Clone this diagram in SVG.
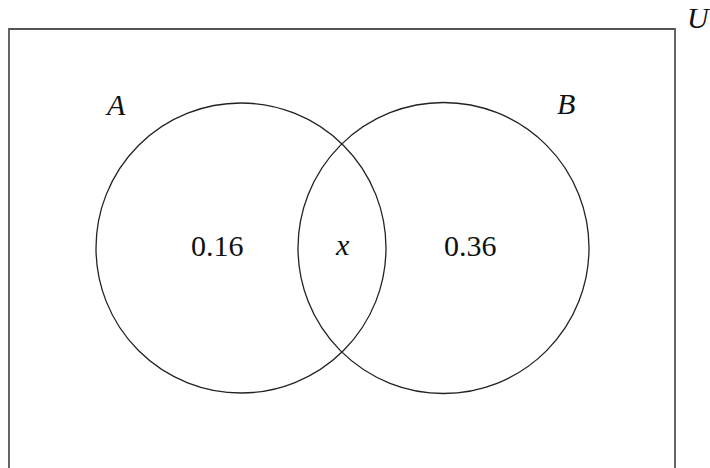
<svg xmlns="http://www.w3.org/2000/svg" width="710" height="468" viewBox="0 0 710 468">
<style>
.set{fill:none;stroke:#222;stroke-width:1.3}
.uni{fill:none;stroke:#555;stroke-width:1.8}
text{font-family:'Liberation Serif','Times New Roman',serif;font-size:30px;fill:#111}
.lbl{font-style:italic}
</style>
<rect width="710" height="468" fill="#fff"/>
<g id="U">
<polyline class="uni" points="9,468 9,29 675,29 675,468"/>
<text class="lbl" x="687" y="28">U</text>
</g>
<g id="A">
<circle class="set" cx="241" cy="248" r="145"/>
<text class="lbl" x="107" y="115">A</text>
<text x="191" y="256">0.16</text>
</g>
<g id="B">
<circle class="set" cx="443.5" cy="248" r="145.5"/>
<text class="lbl" x="557" y="114">B</text>
<text x="444" y="256">0.36</text>
</g>
<g id="AB">
<text class="lbl" x="336" y="255">x</text>
</g>
</svg>
